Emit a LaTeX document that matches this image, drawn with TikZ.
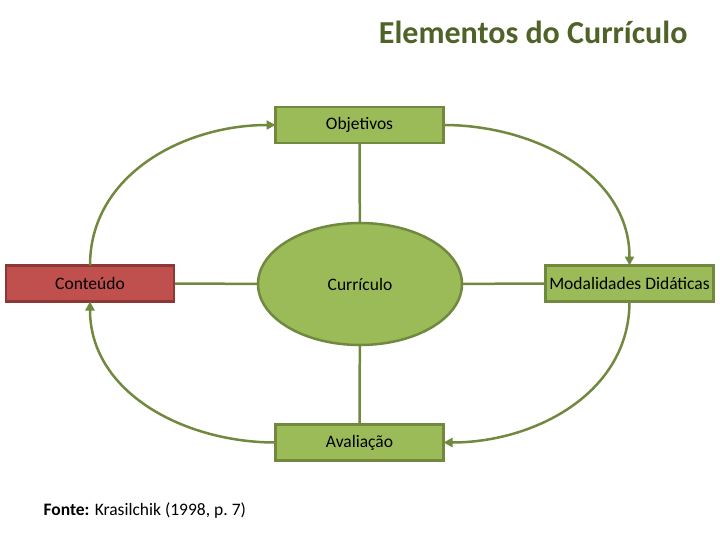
\documentclass[tikz,border=0pt]{standalone}
\usepackage{fontspec}
\setmainfont{Carlito}
\usepackage{tikz}
\usetikzlibrary{arrows.meta,backgrounds,positioning,shapes.geometric}

\definecolor{olivefill}{HTML}{9BBB59}
\definecolor{oliveline}{HTML}{71893F}
\definecolor{redfill}{HTML}{C0504D}
\definecolor{redline}{HTML}{8C3836}
\definecolor{titlegreen}{HTML}{4F6228}

\begin{document}
\begin{tikzpicture}[x=1pt,y=1pt,>=Triangle,
		greenbox/.style={draw=oliveline,fill=olivefill,line width=2.5pt,outer sep=0pt,
			minimum width=168pt,minimum height=36pt,inner sep=0pt,font=\fontsize{17.5}{20}\selectfont},
		redbox/.style={greenbox,draw=redline,fill=redfill},
		link/.style={draw=oliveline,line width=2.5pt},
		cycle/.style={draw=oliveline,line width=2.5pt,-{Triangle[length=9pt,width=9pt]}}]
		
		\useasboundingbox (0,0) rectangle (720,-540);
		
		% Title
		\node[anchor=base east,text=titlegreen,font=\fontsize{32}{36}\selectfont\bfseries] (title) at (691,-44) {Elementos do Currículo};
		
		% Central ellipse
		\node[ellipse,draw=oliveline,fill=olivefill,line width=2.5pt,outer sep=0pt,
			minimum width=204pt,minimum height=122pt,inner sep=0pt,
			font=\fontsize{17.5}{20}\selectfont] (curriculo) at (360,-284) {Currículo};
		
		% The four elements
		\node[greenbox] (objetivos) at (359.5,-125) {Objetivos};
		\node[greenbox] (avaliacao) at (359.5,-442.5) {Avaliação};
		\node[redbox] (conteudo) at (90,-283.5) {Conteúdo};
		\node[greenbox] (modalidades) at (629.5,-283.5) {Modalidades Didáticas};
		
		% Links to the centre, behind the shapes
		\begin{scope}[on background layer]
			\draw[link] (objetivos.center) -- (curriculo.center);
			\draw[link] (curriculo.center) -- (avaliacao.center);
			\draw[link] (conteudo.center) -- (curriculo.center);
			\draw[link] (curriculo.center) -- (modalidades.center);
		\end{scope}
		
		% Cycle round the elements
		\draw[cycle] (conteudo.north) to[out=90,in=180] (objetivos.west);
		\draw[cycle] (objetivos.east) to[out=0,in=90] (modalidades.north);
		\draw[cycle] (modalidades.south) to[out=-90,in=0] (avaliacao.east);
		\draw[cycle] (avaliacao.west) to[out=180,in=-90] (conteudo.south);
		
		% Source
		\node[anchor=base west,font=\fontsize{17.5}{20}\selectfont] (fonte) at (40,-515) {\textbf{Fonte:} Krasilchik (1998, p.~7)};
		
	\end{tikzpicture}
\end{document}
